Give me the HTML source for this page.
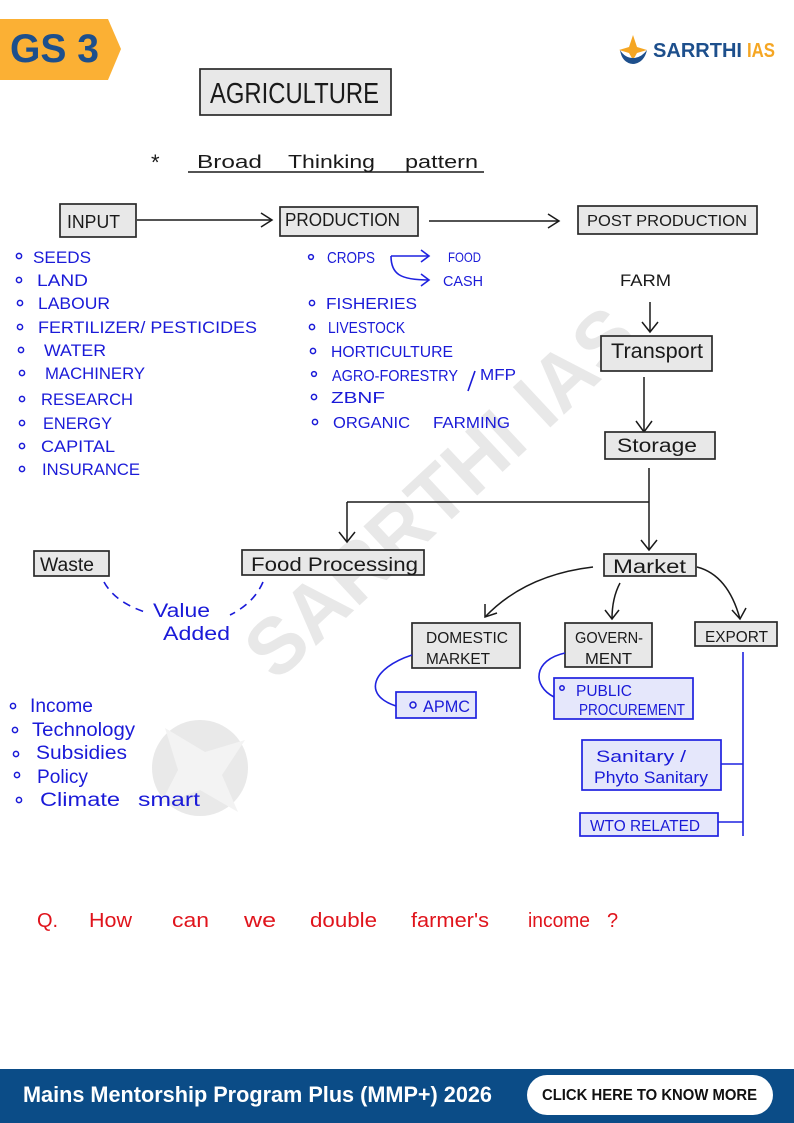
<!DOCTYPE html>
<html><head><meta charset="utf-8"><style>
html,body{margin:0;padding:0;background:#fff;}
svg{display:block;}
.h{font-family:"Liberation Sans",sans-serif;}
.bl{fill:#1a1ad8;}
.bk{fill:#1a1a1a;}
.box{fill:#e8e8e8;stroke:#2a2a2a;stroke-width:1.7;}
.bbox{fill:#e5e7fb;stroke:#1f22e0;stroke-width:1.7;}
.ln{stroke:#1a1a1a;stroke-width:1.5;fill:none;}
.bln{stroke:#1f22e0;stroke-width:1.6;fill:none;}
.bul{fill:none;stroke:#1a1ad8;stroke-width:1.5;}
</style></head><body>
<svg width="794" height="1123" viewBox="0 0 794 1123" xmlns="http://www.w3.org/2000/svg" class="h">
<!-- watermark -->
<g opacity="1">
<circle cx="200" cy="768" r="48" fill="#e9e9e9"/>
<path d="M165 728 L205 752 L245 740 L222 775 L238 812 L200 790 L160 805 L178 770 Z" fill="#f3f3f3"/>
<text x="440" y="520" font-size="80" font-weight="bold" fill="#e8e8e8" text-anchor="middle" textLength="500" lengthAdjust="spacingAndGlyphs" transform="rotate(-43 440 492)">SARRTHI IAS</text>
</g>

<!-- GS 3 badge -->
<polygon points="0,19 108,19 121,49 108,80 0,80" fill="#fbb034"/>
<text x="10" y="62" font-size="40" font-weight="bold" fill="#1d4f8c" textLength="89" lengthAdjust="spacingAndGlyphs">GS 3</text>

<!-- logo -->
<path d="M633 35 L637 47 L647 50 L637 53 L633 60 L629 53 L619 50 L629 47 Z" fill="#f5a623"/>
<path d="M620 50 Q622 63 633 64 Q644 63 647 50 Q641 58 633 58 Q625 58 620 50 Z" fill="#1d4f8c"/>
<text x="653" y="57" font-size="20" font-weight="bold" fill="#1d4f8c" textLength="89" lengthAdjust="spacingAndGlyphs">SARRTHI</text>
<text x="747" y="57" font-size="20" font-weight="bold" fill="#f5a623" textLength="28" lengthAdjust="spacingAndGlyphs">IAS</text>

<!-- Title -->
<rect x="200" y="69" width="191" height="46" class="box"/>
<text x="210" y="103" font-size="29" class="bk" textLength="169" lengthAdjust="spacingAndGlyphs">AGRICULTURE</text>

<text x="151" y="170" font-size="22" class="bk">*</text>
<text x="197" y="168" font-size="18" class="bk" textLength="65" lengthAdjust="spacingAndGlyphs">Broad</text>
<text x="288" y="168" font-size="18" class="bk" textLength="87" lengthAdjust="spacingAndGlyphs">Thinking</text>
<text x="405" y="168" font-size="18" class="bk" textLength="73" lengthAdjust="spacingAndGlyphs">pattern</text>
<line x1="188" y1="172" x2="484" y2="172" class="ln"/>

<!-- top flow -->
<rect x="60" y="204" width="76" height="33" class="box"/>
<text x="67" y="228" font-size="18" class="bk" textLength="53" lengthAdjust="spacingAndGlyphs">INPUT</text>
<line x1="137" y1="220" x2="272" y2="220" class="ln"/>
<polyline points="261,213 272,220 261,227" class="ln"/>

<rect x="280" y="207" width="138" height="29" class="box"/>
<text x="285" y="226" font-size="18" class="bk" textLength="115" lengthAdjust="spacingAndGlyphs">PRODUCTION</text>
<line x1="429" y1="221" x2="559" y2="221" class="ln"/>
<polyline points="548,214 559,221 548,228" class="ln"/>

<rect x="578" y="206" width="179" height="28" class="box"/>
<text x="587" y="226" font-size="16" class="bk" textLength="160" lengthAdjust="spacingAndGlyphs">POST  PRODUCTION</text>

<text x="620" y="286" font-size="17" class="bk" textLength="51" lengthAdjust="spacingAndGlyphs">FARM</text>
<line x1="650" y1="302" x2="650" y2="332" class="ln"/>
<polyline points="642,322 650,332 658,322" class="ln"/>

<rect x="601" y="336" width="111" height="35" class="box"/>
<text x="611" y="358" font-size="21" class="bk" textLength="92" lengthAdjust="spacingAndGlyphs">Transport</text>
<line x1="644" y1="377" x2="644" y2="432" class="ln"/>
<polyline points="636,421 644,432 652,421" class="ln"/>

<rect x="605" y="432" width="110" height="27" class="box"/>
<text x="617" y="452" font-size="19" class="bk" textLength="80" lengthAdjust="spacingAndGlyphs">Storage</text>

<line x1="649" y1="468" x2="649" y2="550" class="ln"/>
<polyline points="641,540 649,550 657,540" class="ln"/>
<line x1="347" y1="502" x2="649" y2="502" class="ln"/>
<line x1="347" y1="502" x2="347" y2="542" class="ln"/>
<polyline points="339,532 347,542 355,532" class="ln"/>

<!-- Waste / Food processing -->
<rect x="34" y="551" width="75" height="25" class="box"/>
<text x="40" y="571" font-size="19" class="bk" textLength="54" lengthAdjust="spacingAndGlyphs">Waste</text>
<rect x="242" y="550" width="182" height="25" class="box"/>
<text x="251" y="571" font-size="19" class="bk" textLength="167" lengthAdjust="spacingAndGlyphs">Food  Processing</text>
<path d="M104 582 Q115 602 145 612" stroke="#1a1ad8" stroke-width="1.6" fill="none" stroke-dasharray="8,6"/>
<path d="M263 582 Q254 603 230 615" stroke="#1a1ad8" stroke-width="1.6" fill="none" stroke-dasharray="8,6"/>
<text x="153" y="617" font-size="19" class="bl" textLength="57" lengthAdjust="spacingAndGlyphs">Value</text>
<text x="163" y="640" font-size="19" class="bl" textLength="67" lengthAdjust="spacingAndGlyphs">Added</text>

<!-- Market -->
<rect x="604" y="554" width="92" height="22" class="box"/>
<text x="613" y="573" font-size="19" class="bk" textLength="73" lengthAdjust="spacingAndGlyphs">Market</text>
<path d="M593 567 Q525 575 485 617" class="ln"/>
<polyline points="485,604 485,617 497,613" class="ln"/>
<path d="M620 583 Q612 598 612 619" class="ln"/>
<polyline points="605,610 612,619 619,610" class="ln"/>
<path d="M697 567 Q728 575 740 619" class="ln"/>
<polyline points="732,610 740,619 746,608" class="ln"/>

<rect x="412" y="623" width="108" height="45" class="box"/>
<text x="426" y="643" font-size="16" class="bk" textLength="82" lengthAdjust="spacingAndGlyphs">DOMESTIC</text>
<text x="426" y="664" font-size="16" class="bk" textLength="64" lengthAdjust="spacingAndGlyphs">MARKET</text>

<rect x="565" y="623" width="87" height="44" class="box"/>
<text x="575" y="643" font-size="16" class="bk" textLength="68" lengthAdjust="spacingAndGlyphs">GOVERN-</text>
<text x="585" y="664" font-size="16" class="bk" textLength="47" lengthAdjust="spacingAndGlyphs">MENT</text>

<rect x="695" y="622" width="82" height="24" class="box"/>
<text x="705" y="642" font-size="16" class="bk" textLength="63" lengthAdjust="spacingAndGlyphs">EXPORT</text>

<!-- blue sub boxes -->
<path d="M412 655 C372 668 362 695 396 706" class="bln"/>
<rect x="396" y="692" width="80" height="26" class="bbox"/>
<circle cx="413" cy="705" r="3" class="bul"/>
<text x="423" y="712" font-size="17" class="bl" textLength="47" lengthAdjust="spacingAndGlyphs">APMC</text>

<path d="M565 653 C533 660 532 686 554 697" class="bln"/>
<rect x="554" y="678" width="139" height="41" class="bbox"/>
<circle cx="562" cy="688" r="2.2" class="bul"/>
<text x="576" y="696" font-size="16" class="bl" textLength="56" lengthAdjust="spacingAndGlyphs">PUBLIC</text>
<text x="579" y="715" font-size="16" class="bl" textLength="106" lengthAdjust="spacingAndGlyphs">PROCUREMENT</text>

<line x1="743" y1="652" x2="743" y2="836" class="bln"/>
<rect x="582" y="740" width="139" height="50" class="bbox"/>
<text x="596" y="762" font-size="17" class="bl" textLength="90" lengthAdjust="spacingAndGlyphs">Sanitary /</text>
<text x="594" y="783" font-size="17" class="bl" textLength="114" lengthAdjust="spacingAndGlyphs">Phyto Sanitary</text>
<line x1="721" y1="764" x2="743" y2="764" class="bln"/>
<rect x="580" y="813" width="138" height="23" class="bbox"/>
<text x="590" y="831" font-size="16" class="bl" textLength="110" lengthAdjust="spacingAndGlyphs">WTO  RELATED</text>
<line x1="718" y1="822" x2="743" y2="822" class="bln"/>

<!-- Input list -->
<g font-size="17" class="bl">
<circle cx="19" cy="256" r="2.6" class="bul"/><text x="33" y="263" textLength="58" lengthAdjust="spacingAndGlyphs">SEEDS</text>
<circle cx="19" cy="280" r="2.6" class="bul"/><text x="37" y="286" textLength="51" lengthAdjust="spacingAndGlyphs">LAND</text>
<circle cx="20" cy="303" r="2.6" class="bul"/><text x="38" y="309" textLength="72" lengthAdjust="spacingAndGlyphs">LABOUR</text>
<circle cx="20" cy="327" r="2.6" class="bul"/><text x="38" y="333" textLength="219" lengthAdjust="spacingAndGlyphs">FERTILIZER/ PESTICIDES</text>
<circle cx="21" cy="350" r="2.6" class="bul"/><text x="44" y="356" textLength="62" lengthAdjust="spacingAndGlyphs">WATER</text>
<circle cx="22" cy="373" r="2.6" class="bul"/><text x="45" y="379" textLength="100" lengthAdjust="spacingAndGlyphs">MACHINERY</text>
<circle cx="22" cy="399" r="2.6" class="bul"/><text x="41" y="405" textLength="92" lengthAdjust="spacingAndGlyphs">RESEARCH</text>
<circle cx="22" cy="423" r="2.6" class="bul"/><text x="43" y="429" textLength="69" lengthAdjust="spacingAndGlyphs">ENERGY</text>
<circle cx="22" cy="446" r="2.6" class="bul"/><text x="41" y="452" textLength="74" lengthAdjust="spacingAndGlyphs">CAPITAL</text>
<circle cx="22" cy="469" r="2.6" class="bul"/><text x="42" y="475" textLength="98" lengthAdjust="spacingAndGlyphs">INSURANCE</text>
</g>

<!-- Production list -->
<g font-size="16" class="bl">
<circle cx="311" cy="257" r="2.4" class="bul"/><text x="327" y="263" textLength="48" lengthAdjust="spacingAndGlyphs">CROPS</text>
<text x="448" y="262" font-size="14" textLength="33" lengthAdjust="spacingAndGlyphs">FOOD</text>
<text x="443" y="286" font-size="15" textLength="40" lengthAdjust="spacingAndGlyphs">CASH</text>
<circle cx="312" cy="303" r="2.6" class="bul"/><text x="326" y="309" textLength="91" lengthAdjust="spacingAndGlyphs">FISHERIES</text>
<circle cx="312" cy="327" r="2.6" class="bul"/><text x="328" y="333" textLength="77" lengthAdjust="spacingAndGlyphs">LIVESTOCK</text>
<circle cx="313" cy="351" r="2.6" class="bul"/><text x="331" y="357" textLength="122" lengthAdjust="spacingAndGlyphs">HORTICULTURE</text>
<circle cx="314" cy="374" r="2.4" class="bul"/><text x="332" y="381" textLength="126" lengthAdjust="spacingAndGlyphs">AGRO-FORESTRY</text>
<line x1="475" y1="371" x2="468" y2="391" stroke="#1a1ad8" stroke-width="1.6"/>
<text x="480" y="380" textLength="36" lengthAdjust="spacingAndGlyphs">MFP</text>
<circle cx="314" cy="397" r="2.6" class="bul"/><text x="331" y="403" textLength="54" lengthAdjust="spacingAndGlyphs">ZBNF</text>
<circle cx="315" cy="422" r="2.6" class="bul"/><text x="333" y="428" textLength="77" lengthAdjust="spacingAndGlyphs">ORGANIC</text>
<text x="433" y="428" textLength="77" lengthAdjust="spacingAndGlyphs">FARMING</text>
</g>
<path d="M391 256 L429 256" class="bln"/>
<polyline points="421,250 429,256 421,262" class="bln"/>
<path d="M391 256 C391 274 400 280 429 280" class="bln"/>
<polyline points="421,274 429,280 421,286" class="bln"/>

<!-- bottom-left list -->
<g font-size="19" class="bl">
<circle cx="13" cy="706" r="2.6" class="bul"/><text x="30" y="712" textLength="63" lengthAdjust="spacingAndGlyphs">Income</text>
<circle cx="15" cy="730" r="2.6" class="bul"/><text x="32" y="736" textLength="103" lengthAdjust="spacingAndGlyphs">Technology</text>
<circle cx="16" cy="754" r="2.6" class="bul"/><text x="36" y="759" textLength="91" lengthAdjust="spacingAndGlyphs">Subsidies</text>
<circle cx="17" cy="775" r="2.6" class="bul"/><text x="37" y="783" textLength="51" lengthAdjust="spacingAndGlyphs">Policy</text>
<circle cx="19" cy="800" r="2.6" class="bul"/><text x="40" y="806" textLength="80" lengthAdjust="spacingAndGlyphs">Climate</text>
<text x="138" y="806" textLength="62" lengthAdjust="spacingAndGlyphs">smart</text>
</g>

<!-- Question -->
<g font-size="20" fill="#e0141c">
<text x="37" y="927">Q.</text>
<text x="89" y="927" textLength="43" lengthAdjust="spacingAndGlyphs">How</text>
<text x="172" y="927" textLength="37" lengthAdjust="spacingAndGlyphs">can</text>
<text x="244" y="927" textLength="32" lengthAdjust="spacingAndGlyphs">we</text>
<text x="310" y="927" textLength="67" lengthAdjust="spacingAndGlyphs">double</text>
<text x="411" y="927" textLength="78" lengthAdjust="spacingAndGlyphs">farmer's</text>
<text x="528" y="927" textLength="62" lengthAdjust="spacingAndGlyphs">income</text>
<text x="607" y="927">?</text>
</g>

<!-- Footer -->
<rect x="0" y="1069" width="794" height="54" fill="#0b4c87"/>
<text x="23" y="1102" font-size="22" font-weight="bold" fill="#ffffff" textLength="469" lengthAdjust="spacingAndGlyphs">Mains Mentorship Program Plus (MMP+) 2026</text>
<rect x="527" y="1075" width="246" height="40" rx="20" ry="20" fill="#ffffff"/>
<text x="542" y="1100" font-size="16" font-weight="bold" fill="#111111" textLength="215" lengthAdjust="spacingAndGlyphs">CLICK HERE TO KNOW MORE</text>
</svg>
</body></html>
